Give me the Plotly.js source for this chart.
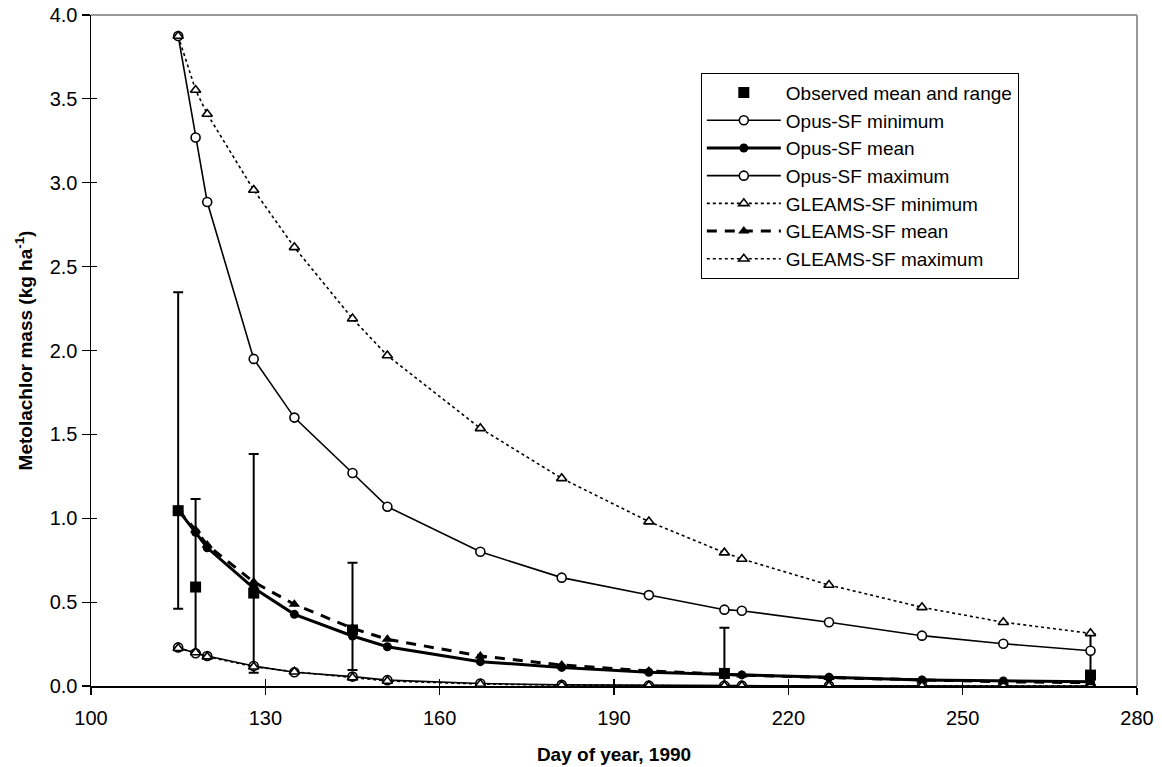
<!DOCTYPE html>
<html>
<head>
<meta charset="utf-8">
<script src="https://cdn.plot.ly/plotly-3.0.1.min.js"></script>
<style>html,body{margin:0;padding:0;background:#fff;}#chart{width:1162px;height:767px;}</style>
</head>
<body>
<div id="chart"></div>
<script>
// Days of year (model output dates)
const days = [115,118,120,128,135,145,151,167,181,196,209,212,227,243,257,272];
const opusMin  = [0.23,0.195,0.179,0.119,0.082,0.056,0.035,0.015,0.007,0.003,0.002,0.002,0.001,0.001,0.0,0.0];
const opusMean = [1.05,0.916,0.824,0.584,0.427,0.298,0.234,0.145,0.111,0.082,0.068,0.066,0.052,0.036,0.03,0.025];
const opusMax  = [3.875,3.27,2.885,1.95,1.60,1.27,1.069,0.80,0.646,0.542,0.455,0.449,0.38,0.30,0.252,0.21];
const gleamsMin  = [0.225,0.2,0.175,0.115,0.085,0.05,0.03,0.012,0.005,0.002,0.001,0.001,0.0,0.0,0.0,0.0];
const gleamsMean = [1.05,0.93,0.84,0.62,0.487,0.344,0.278,0.179,0.125,0.09,0.07,0.065,0.05,0.035,0.025,0.02];
const gleamsMax  = [3.875,3.553,3.41,2.957,2.615,2.19,1.97,1.536,1.238,0.98,0.795,0.757,0.602,0.469,0.38,0.314];
// Observed
const obsDays = [115,118,128,145,209,272];
const obsMean = [1.045,0.59,0.554,0.334,0.075,0.065];
const obsHigh = [2.347,1.115,1.383,0.735,0.347,0.31];
const obsLow  = [0.46,0.2,0.079,0.095,0.01,0.0];

const xTicks = [100,130,160,190,220,250,280];
const yTicks = [0,0.5,1,1.5,2,2.5,3,3.5,4];

const FONT = 'Liberation Sans, Arial, sans-serif';
const K = '#000';

const traces = [
  {x: obsDays, y: obsMean, name: 'Observed mean and range', mode: 'markers', type: 'scatter',
   marker: {symbol: 'square', size: 11, color: K},
   error_y: {type: 'data', symmetric: false,
     array: obsHigh.map((h,i)=>h-obsMean[i]), arrayminus: obsMean.map((m,i)=>m-obsLow[i]),
     color: K, thickness: 2, width: 5}},
  {x: days, y: opusMin, name: 'Opus-SF minimum', mode: 'lines+markers', type: 'scatter',
   line: {color: K, width: 1.6}, marker: {symbol: 'circle', size: 9, color: '#fff', line: {color: K, width: 1.6}}},
  {x: days, y: opusMean, name: 'Opus-SF mean', mode: 'lines+markers', type: 'scatter',
   line: {color: K, width: 3}, marker: {symbol: 'circle', size: 9, color: K}},
  {x: days, y: opusMax, name: 'Opus-SF maximum', mode: 'lines+markers', type: 'scatter',
   line: {color: K, width: 1.6}, marker: {symbol: 'circle', size: 9, color: '#fff', line: {color: K, width: 1.6}}},
  {x: days, y: gleamsMin, name: 'GLEAMS-SF minimum', mode: 'lines+markers', type: 'scatter',
   line: {color: K, width: 1.6, dash: 'dot'}, marker: {symbol: 'triangle-up', size: 9, color: '#fff', line: {color: K, width: 1.6}}},
  {x: days, y: gleamsMean, name: 'GLEAMS-SF mean', mode: 'lines+markers', type: 'scatter',
   line: {color: K, width: 3, dash: '10px,8px'}, marker: {symbol: 'triangle-up', size: 10, color: K}},
  {x: days, y: gleamsMax, name: 'GLEAMS-SF maximum', mode: 'lines+markers', type: 'scatter',
   line: {color: K, width: 1.6, dash: 'dot'}, marker: {symbol: 'triangle-up', size: 9, color: '#fff', line: {color: K, width: 1.6}}},
  // empty trace so the inner-tick overlay axes get drawn
  {x: [], y: [], xaxis: 'x2', yaxis: 'y2', showlegend: false, hoverinfo: 'skip', type: 'scatter'}
];

const layout = {
  width: 1162, height: 767,
  margin: {l: 91, r: 25, t: 15, b: 81},
  paper_bgcolor: '#fff', plot_bgcolor: '#fff',
  font: {family: FONT, color: K, size: 19},
  showlegend: true,
  legend: {x: 0.583, y: 0.914, xanchor: 'left', yanchor: 'top',
    bordercolor: K, borderwidth: 1, bgcolor: '#fff',
    font: {family: FONT, size: 19, color: K}, tracegroupgap: 0, itemwidth: 74},
  xaxis: {range: [100, 280], tickvals: xTicks, ticktext: xTicks.map(String),
    showgrid: false, zeroline: false, showline: true, linecolor: K, linewidth: 1.5,
    ticks: 'outside', ticklen: 7, tickwidth: 1.2, tickcolor: K,
    tickfont: {size: 20, family: FONT}, ticklabelstandoff: 6,
    title: {text: '<b>Day of year, 1990</b>', font: {size: 19, family: FONT}, standoff: 20}},
  yaxis: {range: [0, 4], tickvals: yTicks, ticktext: yTicks.map(v=>v.toFixed(1)),
    showgrid: false, zeroline: false, showline: true, linecolor: K, linewidth: 1.5,
    ticks: 'outside', ticklen: 8, tickwidth: 1.2, tickcolor: K,
    tickfont: {size: 20, family: FONT},
    title: {text: '<b>Metolachlor mass (kg ha<sup>-1</sup>)</b>', font: {size: 19, family: FONT}, standoff: 12}},
  xaxis2: {overlaying: 'x', range: [100, 280], tickvals: xTicks, showticklabels: false,
    showgrid: false, zeroline: false, showline: false, ticks: 'inside', ticklen: 7, tickwidth: 1.2, tickcolor: K, side: 'bottom'},
  yaxis2: {overlaying: 'y', range: [0, 4], tickvals: yTicks, showticklabels: false,
    showgrid: false, zeroline: false, showline: false, ticks: 'inside', ticklen: 6, tickwidth: 1.2, tickcolor: K, side: 'left'},
  shapes: [
    {type: 'line', xref: 'paper', yref: 'paper', x0: 0, x1: 1, y0: 1, y1: 1, line: {color: '#999', width: 2}},
    {type: 'line', xref: 'paper', yref: 'paper', x0: 1, x1: 1, y0: 0, y1: 1, line: {color: '#999', width: 2}}
  ]
};

Plotly.newPlot('chart', traces, layout, {displayModeBar: false, staticPlot: true});
</script>
</body>
</html>
